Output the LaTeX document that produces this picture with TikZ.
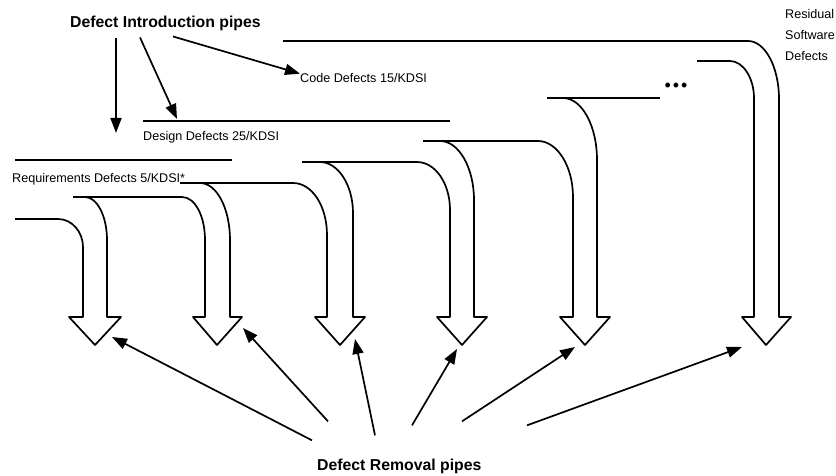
\documentclass[tikz,border=0pt]{standalone}
\usepackage{fontspec}
\setmainfont{Liberation Sans}
\usetikzlibrary{calc, positioning, arrows.meta}

\tikzset{
  pipe/.style={line width=1.7pt, line join=round},
  ptr/.style={line width=1.7pt, -{Triangle[length=15pt, width=11pt]}},
  lbl/.style={font=\fontsize{12.6}{15}\selectfont, inner sep=0pt, anchor=base west},
  ttl/.style={font=\fontsize{15.8}{18}\selectfont\bfseries, inner sep=0pt, anchor=base west}
}

\begin{document}
\begin{tikzpicture}[x=1pt, y=-1pt]
  \useasboundingbox (0,0) rectangle (836,476);

  % Introduction lines
  \draw[pipe] (15,160) -- (232,160);
  \draw[pipe] (143,121) -- (450,121);

  % Removal pipes, inner wall -- head -- outer wall
  \draw[pipe] (15,219) -- (58,219) .. controls +(14,0) and +(0,-15) .. (83,247)
    -- (83,317) -- (69,317) -- (95,345) -- (121,317) -- (107,317)
    -- (107,240) .. controls +(0,-24) and +(12,0) .. (85,197);
  \draw[pipe] (73,197) -- (182,197) .. controls +(13,0) and +(0,-24) .. (205,240)
    -- (205,317) -- (193,317) -- (217,345) -- (242,317) -- (230,317)
    -- (230,240) .. controls +(0,-31) and +(17,0) .. (200,183);
  \draw[pipe] (180,183) -- (293,183) .. controls +(19,0) and +(0,-29) .. (327,235)
    -- (327,317) -- (315,317) -- (340,345) -- (365,317) -- (353,317)
    -- (353,213) .. controls +(0,-28) and +(18,0) .. (320,162);
  \draw[pipe] (302,162) -- (417,162) .. controls +(18,0) and +(0,-27) .. (450,210)
    -- (450,317) -- (437,317) -- (462,345) -- (487,317) -- (474,317)
    -- (474,200) .. controls +(0,-32) and +(19,0) .. (440,141);
  \draw[pipe] (423,141) -- (538,141) .. controls +(19,0) and +(0,-31) .. (573,197)
    -- (573,317) -- (560,317) -- (585,345) -- (610,317) -- (597,317)
    -- (597,160) .. controls +(0,-34) and +(19,0) .. (563,98);
  \draw[pipe] (547,98) -- (660,98);
  \draw[pipe] (697,61) -- (730,61) .. controls +(13,0) and +(0,-20) .. (754,98)
    -- (754,317) -- (742,317) -- (766,345) -- (791,317) -- (779,317)
    -- (779,99) .. controls +(0,-32) and +(17,0) .. (748,41) -- (283,41);

  \coordinate (tip1) at (95,345);
  \coordinate (tip2) at (217,345);
  \coordinate (tip3) at (340,345);
  \coordinate (tip4) at (462,345);
  \coordinate (tip5) at (585,345);
  \coordinate (tip6) at (766,345);

  % Labels
  \node[ttl] (intro) at (70,28) {Defect Introduction pipes};
  \node[ttl] (removal) at (317,470) {Defect Removal pipes};
  \node[lbl] (code) at (300,83) {Code Defects 15/KDSI};
  \node[lbl] (design) at (143,141) {Design Defects 25/KDSI};
  \node[lbl] (req) at (12,183) {Requirements Defects 5/KDSI*};
  \node[lbl, anchor=north west, align=left, font=\fontsize{12.6}{21}\selectfont]
    (resid) at (785,9) {Residual\\Software\\Defects};
  \node[font=\fontsize{18}{20}\selectfont, inner sep=0pt] (dots) at (676,87)
    {•\hspace{2pt}•\hspace{2pt}•};

  % Pointers
  \coordinate (reqIn) at (116,133);
  \coordinate (desIn) at (177,119);
  \draw[ptr] ($(intro.south -| reqIn)+(0,7)$) -- (reqIn);
  \draw[ptr] ($(intro.south west)+(70,6)$) -- (desIn);
  \draw[ptr] ($(intro.south west)+(103,5)$) -- (code.north west);

  \draw[ptr] ($(removal.north west)+(-5,-18)$) -- ($(tip1)+(17,-8)$);
  \draw[ptr] ($(removal.north west)+(11,-37)$) -- ($(tip2)+(26,-17)$);
  \draw[ptr] ($(removal.north west)+(58,-23)$) -- ($(tip3)+(15,-6)$);
  \draw[ptr] ($(removal.north west)+(95,-33)$) -- ($(tip4)+(-5,4)$);
  \draw[ptr] ($(removal.north west)+(145,-37)$) -- ($(tip5)+(-10,2)$);
  \draw[ptr] ($(removal.north west)+(210,-33)$) -- ($(tip6)+(-24,2)$);
\end{tikzpicture}
\end{document}
